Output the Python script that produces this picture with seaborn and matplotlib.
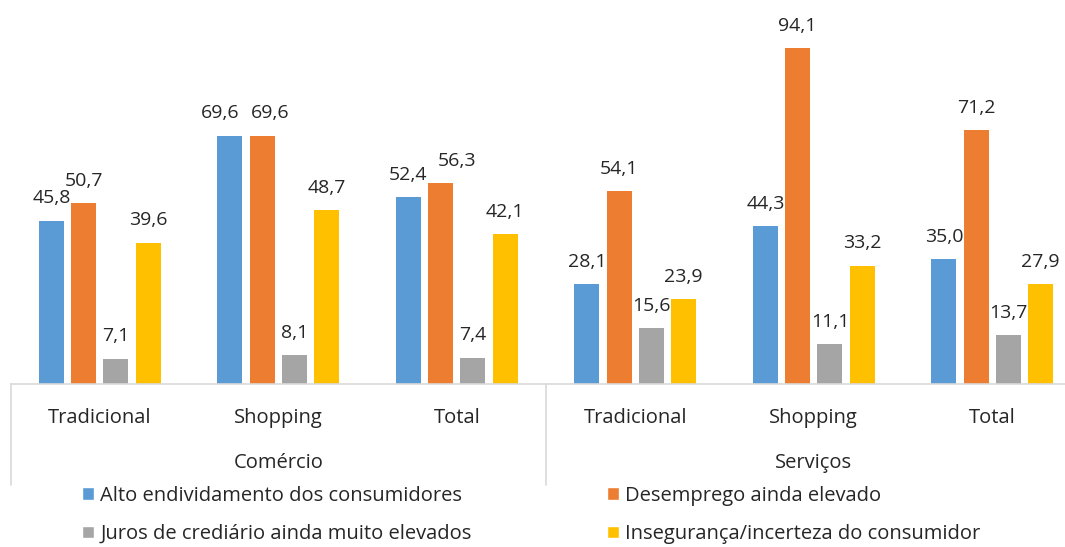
import matplotlib
matplotlib.use("Agg")
from matplotlib import pyplot as plt
from matplotlib.patches import Patch
import seaborn as sns
import pandas as pd

# data
groups = ['Comércio', 'Serviços']
subcats = ['Tradicional', 'Shopping', 'Total']
series = ['Alto endividamento dos consumidores',
          'Desemprego ainda elevado',
          'Juros de crediário ainda muito elevados',
          'Insegurança/incerteza do consumidor']
alto = [45.8, 69.6, 52.4, 28.1, 44.3, 35.0]
desemprego = [50.7, 69.6, 56.3, 54.1, 94.1, 71.2]
juros = [7.1, 8.1, 7.4, 15.6, 11.1, 13.7]
inseguranca = [39.6, 48.7, 42.1, 23.9, 33.2, 27.9]
colors = ['#5B9BD5', '#ED7D31', '#A5A5A5', '#FFC000']

keys = [g + '|' + s for g in groups for s in subcats]
rows = []
for name, vals in zip(series, [alto, desemprego, juros, inseguranca]):
    for k, v in zip(keys, vals):
        rows.append({'cat': k, 'serie': name, 'valor': v})
df = pd.DataFrame(rows)

sns.set_style('white')
plt.rcParams['font.family'] = ['Open Sans', 'DejaVu Sans']
txt = '#262626'
fs = 14.5

fig = plt.figure(figsize=(10.65, 5.47), dpi=100)
ax = fig.add_axes([10.5 / 1065, 163 / 547, 1071 / 1065, 384 / 547])

sns.barplot(data=df, x='cat', y='valor', hue='serie', order=keys,
            hue_order=series, palette=colors, width=0.723, gap=0.226,
            linewidth=0, saturation=1, legend=False, ax=ax)

# nudges (points) for labels that would collide, like the reference does
nudge = {(0, 1): -7, (1, 1): 5.5, (1, 2): 12}
for si, cont in enumerate(ax.containers):
    for ci, bar in enumerate(cont):
        h = bar.get_height()
        ax.annotate(f"{h:.1f}".replace('.', ','),
                    (bar.get_x() + bar.get_width() / 2, h),
                    xytext=(nudge.get((si, ci), 0), 9.5),
                    textcoords='offset points', ha='center', va='bottom',
                    fontsize=14, color=txt)

ax.set_ylim(0, 107.6)
ax.set_xlim(-0.5, 5.5)
ax.set_yticks([])
ax.set_xlabel('')
ax.set_ylabel('')
for side in ['top', 'right', 'left']:
    ax.spines[side].set_visible(False)
ax.spines['bottom'].set_color('#D9D9D9')
ax.spines['bottom'].set_linewidth(1.2)

ax.set_xticks(range(len(keys)))
ax.set_xticklabels(subcats * 2, fontsize=fs, color=txt)
ax.tick_params(axis='x', length=0, pad=17)

# group labels and separators below the axis
tr = ax.get_xaxis_transform()
for i, g in enumerate(groups):
    ax.text(3 * i + 1, -0.205, g, transform=tr, ha='center', va='center',
            fontsize=fs, color=txt, clip_on=False)
for x in [-0.5, 2.5, 5.5]:
    ax.plot([x, x], [0, -0.264], transform=tr, color='#D9D9D9',
            linewidth=1.2, clip_on=False)

handles = [Patch(facecolor=c, label=s) for c, s in zip(colors, series)]
for col, x0 in [([0, 2], 64 / 1065), ([1, 3], 589 / 1065)]:
    leg = fig.legend([handles[i] for i in col], [series[i] for i in col],
                     loc='lower left', bbox_to_anchor=(x0, -0.028),
                     frameon=False, fontsize=fs, handlelength=0.6,
                     handleheight=0.6, handletextpad=0.3, labelspacing=0.92,
                     labelcolor=txt)

fig.savefig('out.png', dpi=100)
